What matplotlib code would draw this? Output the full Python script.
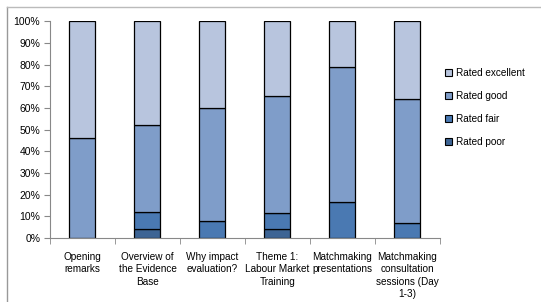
import numpy as np
import matplotlib.pyplot as plt
from matplotlib.lines import Line2D

plt.rcParams['font.family'] = ['Liberation Sans', 'DejaVu Sans']

categories = ['Opening\nremarks', 'Overview of\nthe Evidence\nBase', 'Why impact\nevaluation?',
              'Theme 1:\nLabour Market\nTraining', 'Matchmaking\npresentations',
              'Matchmaking\nconsultation\nsessions (Day\n1-3)']
poor = [0, 4, 0, 4, 0, 0]
fair = [0, 8, 8, 7.5, 16.5, 7]
good = [46, 40, 52, 54, 62.5, 57]
excellent = [54, 48, 40, 34.5, 21, 36]

series = [('Rated poor', poor, '#3d6494'),
          ('Rated fair', fair, '#4a79b2'),
          ('Rated good', good, '#7f9dc9'),
          ('Rated excellent', excellent, '#b8c5de')]

fig = plt.figure(figsize=(5.41, 3.02), dpi=100)
ax = fig.add_axes([0.0924, 0.212, 0.7206, 0.718])

x = np.arange(len(categories))
bottom = np.zeros(len(categories))
handles = []
for name, vals, col in series:
    ax.bar(x, vals, width=0.4, bottom=bottom, color=col, edgecolor='black', linewidth=0.9)
    bottom += np.array(vals)
    handles.append((name, col))

ax.set_xlim(-0.5, len(categories) - 0.5)
ax.set_ylim(0, 100)
ax.set_yticks(np.arange(0, 101, 10))
ax.set_yticklabels([f'{v}%' for v in range(0, 101, 10)], fontsize=7.5)
ax.set_xticks(x)
ax.set_xticklabels(categories, fontsize=7.2, linespacing=1.3)
ax.set_xticks(np.arange(-0.5, len(categories)), minor=True)
ax.tick_params(axis='x', which='major', length=0, pad=10)
ax.tick_params(axis='x', which='minor', length=4, color='#888888')
ax.tick_params(axis='y', length=4, color='#888888', pad=3)
for s in ['top', 'right']:
    ax.spines[s].set_visible(False)
for s in ['left', 'bottom']:
    ax.spines[s].set_color('#888888')

legend_handles = [plt.Rectangle((0, 0), 1, 1, facecolor=c, edgecolor='black', linewidth=0.8)
                  for n, c in reversed(handles)]
legend_labels = [n for n, c in reversed(handles)]
ax.legend(legend_handles, legend_labels, loc='center left', bbox_to_anchor=(0.99, 0.6),
          frameon=False, fontsize=7.2, handlelength=0.7, handleheight=0.7,
          handletextpad=0.4, labelspacing=1.3)

fig.add_artist(Line2D([0.013, 0.013], [0, 0.977], color='#999999', linewidth=1))
fig.add_artist(Line2D([0.013, 1], [0.977, 0.977], color='#bbbbbb', linewidth=1))

fig.savefig('out.png', dpi=100)
